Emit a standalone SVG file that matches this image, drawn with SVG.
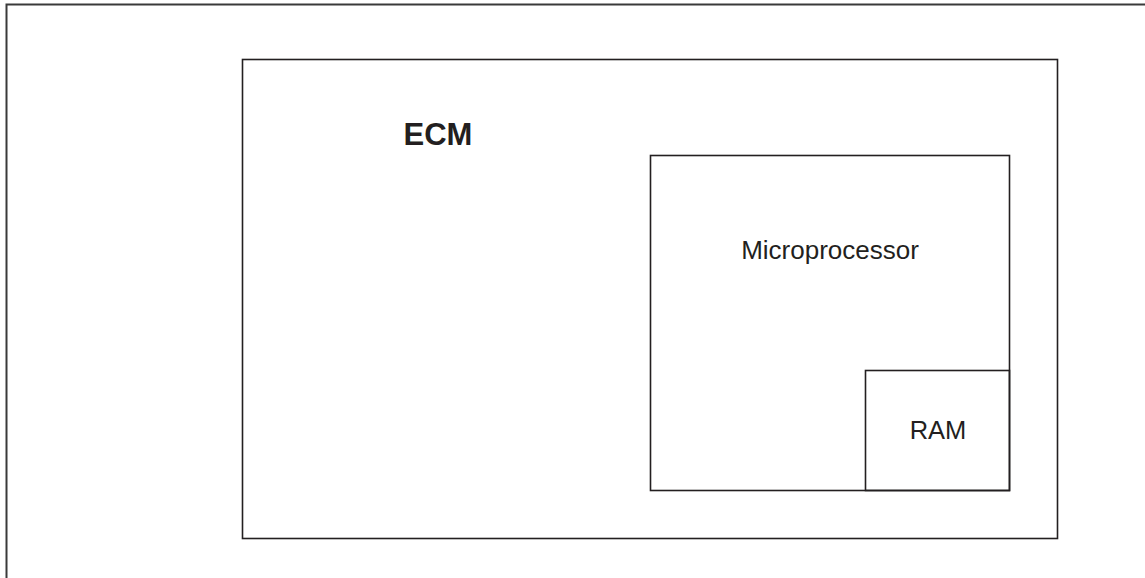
<svg xmlns="http://www.w3.org/2000/svg" width="1145" height="578" viewBox="0 0 1145 578">
<style>
.box{fill:none;stroke:#231f20;stroke-width:1.6}
.frame{fill:none;stroke:#3a3a3a;stroke-width:2}
.lbl{font-family:"Liberation Sans",Arial,sans-serif;fill:#231f20}
</style>
<rect width="1145" height="578" fill="#ffffff"/>
<g id="frame"><rect class="frame" x="6.5" y="4.5" width="1160" height="600"/></g>
<g id="ecm">
<rect class="box" x="242.5" y="59.5" width="815" height="479"/>
<text class="lbl" x="403.5" y="144.5" font-size="31" font-weight="bold">ECM</text>
</g>
<g id="microprocessor">
<rect class="box" x="650.5" y="155.5" width="359" height="335"/>
<text class="lbl" x="830" y="258.5" font-size="26" text-anchor="middle">Microprocessor</text>
</g>
<g id="ram">
<rect class="box" x="865.5" y="370.5" width="144" height="120"/>
<text class="lbl" x="938" y="438.5" font-size="25.5" text-anchor="middle">RAM</text>
</g>
<g id="connectors"></g>
</svg>
